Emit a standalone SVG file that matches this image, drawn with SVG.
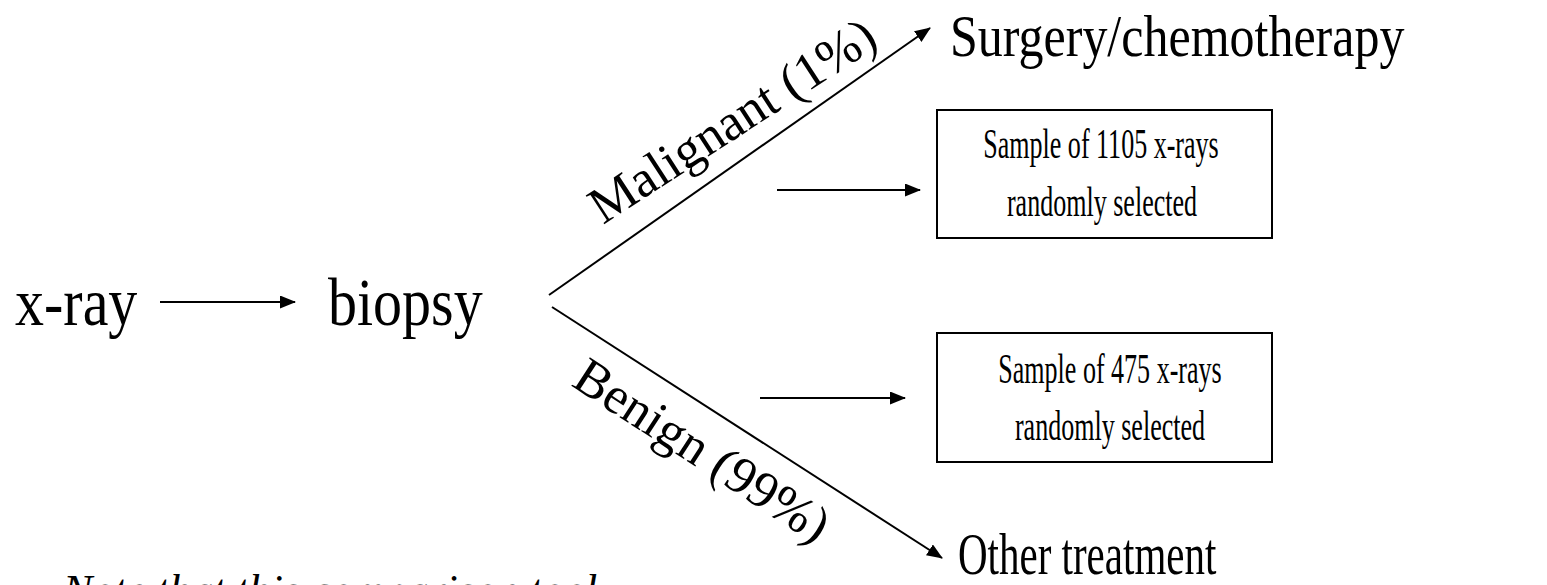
<svg xmlns="http://www.w3.org/2000/svg" width="1547" height="585" viewBox="0 0 1547 585">
  <style>
    text { font-family: "Liberation Serif", "Times New Roman", serif; fill: #000; }
    .big { font-size: 58px; }
    .out { font-size: 50px; }
    .lbl { font-size: 52px; }
    .box { font-size: 42px; text-anchor: middle; }
    .note { font-size: 44px; font-style: italic; }
    .conn line { stroke: #000; stroke-width: 2; fill: none; }
    rect.node { fill: #fff; stroke: #000; stroke-width: 2; }
  </style>
  <defs>
    <marker id="arrow" markerUnits="userSpaceOnUse" markerWidth="16" markerHeight="13" refX="15" refY="6.5" orient="auto">
      <path d="M0,0 L16,6.5 L0,13 Z" fill="#000"/>
    </marker>
  </defs>
  <rect width="1547" height="585" fill="#fff"/>

  <g id="xray"><text class="big" transform="translate(15,325) scale(1,1.15)">x-ray</text></g>
  <g id="biopsy"><text class="big" transform="translate(328,325) scale(1,1.15)">biopsy</text></g>
  <g id="surgery"><text class="out" transform="translate(950,56) scale(1,1.2)">Surgery/chemotherapy</text></g>
  <g id="other"><text class="out" transform="translate(958,574) scale(0.82,1.2)">Other treatment</text></g>

  <g id="sample1105">
    <rect class="node" x="937" y="110" width="335" height="128"/>
    <text class="box" transform="translate(1101,158) scale(0.62,1)">Sample of 1105 x-rays</text>
    <text class="box" transform="translate(1102,216) scale(0.62,1)">randomly selected</text>
  </g>
  <g id="sample475">
    <rect class="node" x="937" y="333" width="335" height="129"/>
    <text class="box" transform="translate(1110,383) scale(0.62,1)">Sample of 475 x-rays</text>
    <text class="box" transform="translate(1110,440) scale(0.62,1)">randomly selected</text>
  </g>

  <g id="labels">
    <text class="lbl" transform="translate(603,225) rotate(-33)">Malignant (1%)</text>
    <text class="lbl" transform="translate(570,385) rotate(33)">Benign (99%)</text>
  </g>

  <g id="note"><text class="note" x="63" y="605">Note that this comparison took</text></g>

  <g id="connectors" class="conn">
    <line x1="160" y1="302" x2="295" y2="302" marker-end="url(#arrow)"/>
    <line x1="549" y1="295" x2="930" y2="28" marker-end="url(#arrow)"/>
    <line x1="552" y1="307" x2="942" y2="558" marker-end="url(#arrow)"/>
    <line x1="777" y1="190" x2="920" y2="190" marker-end="url(#arrow)"/>
    <line x1="760" y1="398" x2="905" y2="398" marker-end="url(#arrow)"/>
  </g>
</svg>
